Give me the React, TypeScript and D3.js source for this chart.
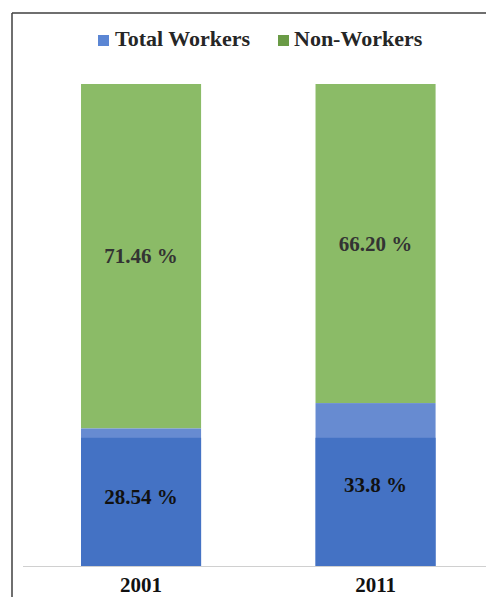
import React from "react";
import * as d3 from "d3";

const years = ["2001", "2011"];
const totalWorkers = [28.54, 33.8];
const nonWorkers = [71.46, 66.2];
const totalLabels = ["28.54 %", "33.8 %"];
const nonLabels = ["71.46 %", "66.20 %"];
const shadeLevel = [26.6, 26.6];
const seriesNames = ["Total Workers", "Non-Workers"];

const W = 486;
const H = 597;
const FONT = "'Liberation Serif', 'Times New Roman', serif";

export default function App() {
  const y = d3.scaleLinear().domain([0, 100]).range([566, 84]);
  const x = d3
    .scaleBand<string>()
    .domain(years)
    .range([23.8, 492.8])
    .paddingInner(0.488)
    .paddingOuter(0.244);
  const bw = x.bandwidth();

  return (
    <svg
      width={W}
      height={H}
      style={{ position: "absolute", left: 0, top: 0, background: "#fff" }}
    >
      {/* frame */}
      <line x1={12} y1={13} x2={W} y2={13} stroke="#3f3f3f" strokeWidth={1.5} />
      <line x1={12} y1={13} x2={12} y2={H} stroke="#3f3f3f" strokeWidth={1.5} />

      {/* legend */}
      <rect x={98} y={35} width={11} height={11} fill="#5b86d4" />
      <text x={115} y={45.5} fontFamily={FONT} fontWeight="bold" fontSize={22} fill="#262626">
        {seriesNames[0]}
      </text>
      <rect x={278} y={35} width={11} height={11} fill="#6a9b46" />
      <text x={294} y={45.5} fontFamily={FONT} fontWeight="bold" fontSize={22} fill="#262626">
        {seriesNames[1]}
      </text>

      {years.map((yr, i) => {
        const x0 = x(yr)!;
        const cx = x0 + bw / 2;
        const tw = totalWorkers[i];
        const nw = nonWorkers[i];
        return (
          <g key={yr}>
            <rect x={x0} y={y(tw + nw)} width={bw} height={y(tw) - y(tw + nw)} fill="#8bbb67" />
            <rect x={x0} y={y(tw)} width={bw} height={y(0) - y(tw)} fill="#678bd1" />
            <rect x={x0} y={y(shadeLevel[i])} width={bw} height={y(0) - y(shadeLevel[i])} fill="#4472c4" />
            <text
              x={cx}
              y={(y(tw) + y(tw + nw)) / 2 + 7}
              textAnchor="middle"
              fontFamily={FONT}
              fontWeight="bold"
              fontSize={21}
              fill="#333"
            >
              {nonLabels[i]}
            </text>
            <text
              x={cx}
              y={(y(0) + y(tw)) / 2 + 7}
              textAnchor="middle"
              fontFamily={FONT}
              fontWeight="bold"
              fontSize={21}
              fill="#111"
            >
              {totalLabels[i]}
            </text>
            <text
              x={cx}
              y={592}
              textAnchor="middle"
              fontFamily={FONT}
              fontWeight="bold"
              fontSize={21}
              fill="#111"
            >
              {yr}
            </text>
          </g>
        );
      })}

      {/* baseline */}
      <line x1={23} y1={566.5} x2={W} y2={566.5} stroke="#d0d0d0" strokeWidth={1} />
    </svg>
  );
}
